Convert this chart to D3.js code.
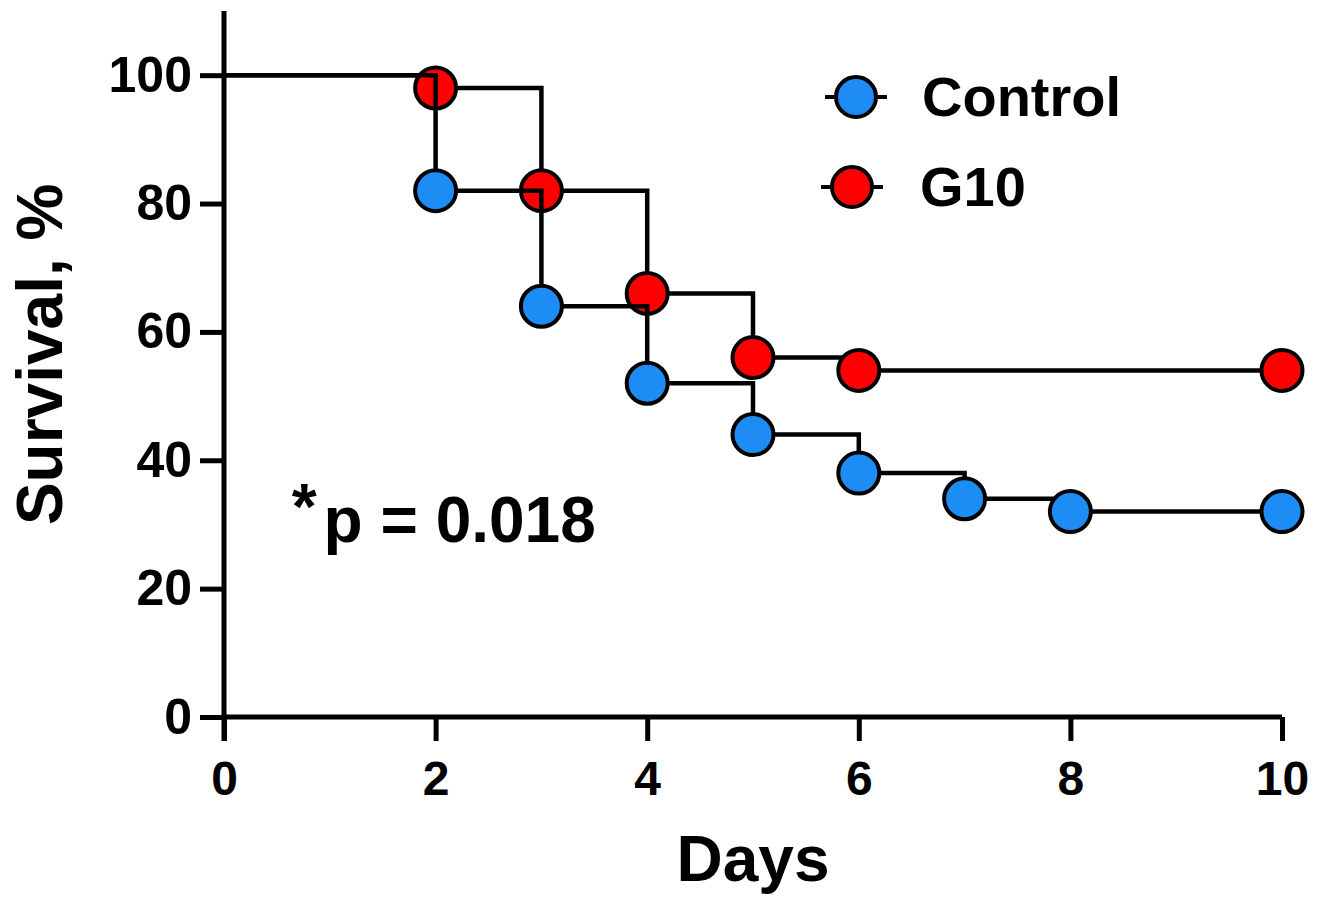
<!DOCTYPE html>
<html>
<head>
<meta charset="utf-8">
<script src="https://cdn.jsdelivr.net/npm/d3@7"></script>
<style>
  body { margin: 0; background: #fff; }
  text { font-family: "Liberation Sans", Arial, sans-serif; font-weight: bold; fill: #000; }
</style>
</head>
<body>
<div id="chart"></div>
<script>
// Survival data (days, percent)
let controlDays = [0, 2, 3, 4, 5, 6, 7, 8, 10];
let controlSurv = [100, 82, 64, 52, 44, 38, 34, 32, 32];
let g10Days = [0, 2, 3, 4, 5, 6, 10];
let g10Surv = [100, 98, 82, 66, 56, 54, 54];

let xTicks = [0, 2, 4, 6, 8, 10];
let yTicks = [0, 20, 40, 60, 80, 100];

let seriesNames = ["Control", "G10"];
let seriesColors = ["#1e8cf5", "#ff0000"];

var margin = {top: 11, right: 41, bottom: 184, left: 224},
    width = 1323 - margin.left - margin.right,
    height = 901 - margin.top - margin.bottom;

let svg = d3.select("#chart")
            .append("svg")
                .attr("width", 1323)
                .attr("height", 901)
            .append("g")
                .attr("transform", "translate(" + margin.left + "," + margin.top + ")");

let x = d3.scaleLinear().domain([0, 10]).range([0, width]);
let y = d3.scaleLinear().domain([0, 110]).range([height, 0]);

// X axis
let xAxis = svg.append("g")
    .attr("transform", "translate(0," + height + ")")
    .call(d3.axisBottom(x).tickValues(xTicks).tickSize(24).tickPadding(20));

// Y axis
let yAxis = svg.append("g")
    .call(d3.axisLeft(y).tickValues(yTicks).tickSize(24).tickPadding(8));

[xAxis, yAxis].forEach(a => {
    a.select(".domain").attr("stroke-width", 5).attr("stroke", "#000");
    a.selectAll(".tick line").attr("stroke-width", 5).attr("stroke", "#000");
    a.selectAll(".tick text").attr("fill", "#000")
        .style("font-family", "'Liberation Sans', Arial, sans-serif")
        .style("font-weight", "bold");
});
xAxis.selectAll(".tick text").style("font-size", "48px");
yAxis.selectAll(".tick text").style("font-size", "50px");
// stretch the y axis line down over the x axis
yAxis.select(".domain").attr("d", "M0," + (height + 24) + "V" + y(110));
xAxis.select(".domain").attr("d", "M0,0H" + width);

// Axis titles
svg.append("text")
    .attr("text-anchor", "middle")
    .attr("x", x(5))
    .attr("y", height + 164)
    .style("font-size", "64px")
    .text("Days");

svg.append("text")
    .attr("text-anchor", "middle")
    .attr("transform", "translate(" + (-162) + "," + y(56.5) + ") rotate(-90)")
    .style("font-size", "64px")
    .text("Survival, %");

// p value
let pText = svg.append("text")
    .attr("x", x(0.64))
    .attr("y", y(27.2))
    .style("font-size", "64px");
pText.append("tspan").attr("dy", -13).text("*");
pText.append("tspan").attr("dy", 13).attr("dx", 7).text("p = 0.018");

// Step lines and symbols
let line = d3.line()
    .x(d => x(d[0]))
    .y(d => y(d[1]))
    .curve(d3.curveStepAfter);

let series = [
    d3.zip(g10Days, g10Surv),
    d3.zip(controlDays, controlSurv)
];
let colors = [seriesColors[1], seriesColors[0]];

series.forEach((pts, i) => {
    svg.append("path")
        .datum(pts)
        .attr("d", line)
        .attr("fill", "none")
        .attr("stroke", "#000")
        .attr("stroke-width", 4.5);

    svg.selectAll(".dot" + i)
        .data(pts.slice(1))
        .enter()
        .append("circle")
            .attr("class", "dot" + i)
            .attr("cx", d => x(d[0]))
            .attr("cy", d => y(d[1]))
            .attr("r", 20.5)
            .attr("fill", colors[i])
            .attr("stroke", "#000")
            .attr("stroke-width", 4);
});

// Legend
let legend = svg.append("g")
    .selectAll("g")
    .data(seriesNames)
    .enter()
    .append("g")
        .attr("transform", (d, i) => "translate(" + (632 - i * 4) + "," + (86 + i * 90) + ")");

legend.append("line")
    .attr("x1", -31).attr("x2", 31)
    .attr("stroke", "#000")
    .attr("stroke-width", 4);

legend.append("circle")
    .attr("r", 20)
    .attr("fill", (d, i) => seriesColors[i])
    .attr("stroke", "#000")
    .attr("stroke-width", 4);

legend.append("text")
    .attr("x", (d, i) => 66 + i * 2)
    .attr("y", 19)
    .style("font-size", "56px")
    .text(d => d);
</script>
</body>
</html>
